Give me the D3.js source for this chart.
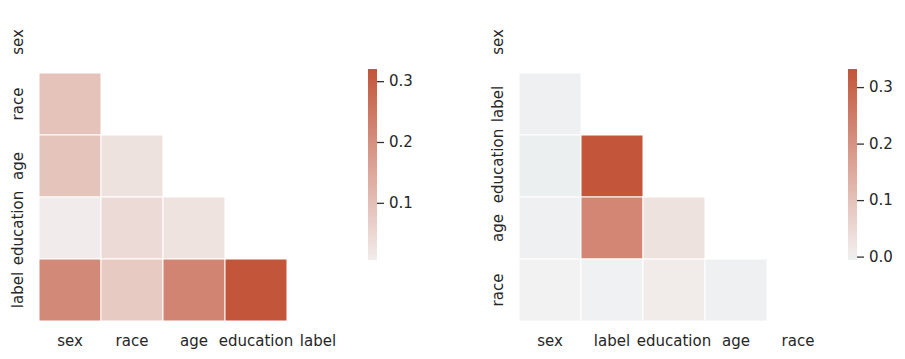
<!DOCTYPE html>
<html>
<head>
<meta charset="utf-8">
<script src="https://cdn.jsdelivr.net/npm/d3@7"></script>
<style>
  html, body { margin: 0; padding: 0; background: #fff; }
  text { font-family: "DejaVu Sans", sans-serif; fill: #262626; }
</style>
</head>
<body>
<svg id="chart" width="905" height="359"></svg>
<script>
// ---- Data ----
const leftVars = ["sex", "race", "age", "education", "label"];
// lower triangle: row i has values for columns 0..i-1
const leftValues = [
  [],
  [0.092],
  [0.089, 0.027],
  [0.006, 0.043, 0.025],
  [0.212, 0.078, 0.223, 0.320]
];
const leftTicks = [0.1, 0.2, 0.3];

const rightVars = ["sex", "label", "education", "age", "race"];
const rightValues = [
  [],
  [-0.002],
  [-0.006, 0.332],
  [-0.002, 0.227, 0.028],
  [0.000, -0.001, 0.009, -0.002]
];
const rightTicks = [0.0, 0.1, 0.2, 0.3];

// ---- Colormap (diverging 220 -> 20, light center) ----
const cmapStops = [0, 127/256, 0.5, 129/256, 1];
const cmapColors = ["rgb(63,127,145)", "rgb(237,240,241)", "rgb(242,242,242)", "rgb(242,238,237)", "rgb(195,85,58)"];
const cmap = d3.scaleLinear().domain(cmapStops).range(cmapColors).interpolate(d3.interpolateRgb).clamp(true);

const svg = d3.select("#chart");

function drawHeatmap(cfg) {
  const { vars, values, ticks, x0, y0, cbX } = cfg;
  const n = vars.length;
  const cell = 62;
  const flat = values.flat();
  const vmin = d3.min(flat), vmax = d3.max(flat);
  const vrange = Math.max(Math.abs(vmin), Math.abs(vmax));
  const color = v => cmap((v / vrange + 1) / 2);

  const x = d3.scaleBand().domain(vars).range([x0, x0 + n * cell]);
  const y = d3.scaleBand().domain(vars).range([y0, y0 + n * cell]);

  const g = svg.append("g");
  const cells = [];
  values.forEach((row, i) => row.forEach((v, j) => cells.push({ r: vars[i], c: vars[j], v })));
  g.selectAll("rect.cell").data(cells).join("rect")
    .attr("class", "cell")
    .attr("x", d => x(d.c)).attr("y", d => y(d.r))
    .attr("width", x.bandwidth()).attr("height", y.bandwidth())
    .attr("fill", d => color(d.v))
    .attr("stroke", "#fff").attr("stroke-width", 1);

  // x labels
  g.selectAll("text.xl").data(vars).join("text")
    .attr("class", "xl")
    .attr("x", d => x(d) + x.bandwidth() / 2)
    .attr("y", y0 + n * cell + 25)
    .attr("text-anchor", "middle")
    .style("font-size", "15px")
    .text(d => d);

  // y labels
  g.selectAll("text.yl").data(vars).join("text")
    .attr("class", "yl")
    .attr("transform", d => `translate(${x0 - 16},${y(d) + y.bandwidth() / 2}) rotate(-90)`)
    .attr("text-anchor", "middle")
    .style("font-size", "15px")
    .text(d => d);

  // colorbar
  const cbTop = 69, cbBot = 260, cbW = 9;
  const cy = d3.scaleLinear().domain([vmin, vmax]).range([cbBot, cbTop]);
  const gradId = "grad" + x0;
  const grad = svg.append("defs").append("linearGradient")
    .attr("id", gradId).attr("x1", 0).attr("y1", 1).attr("x2", 0).attr("y2", 0);
  d3.range(0, 1.0001, 0.05).forEach(f => {
    grad.append("stop").attr("offset", f).attr("stop-color", color(vmin + f * (vmax - vmin)));
  });
  g.append("rect").attr("x", cbX).attr("y", cbTop).attr("width", cbW).attr("height", cbBot - cbTop)
    .attr("fill", `url(#${gradId})`);
  const axis = d3.axisRight(cy).tickValues(ticks).tickFormat(d3.format(".1f")).tickSize(7).tickPadding(5).tickSizeOuter(0);
  const ag = g.append("g").attr("transform", `translate(${cbX + cbW},0)`).call(axis);
  ag.select(".domain").remove();
  ag.selectAll(".tick line").attr("stroke", "#333").attr("stroke-width", 1.3);
  ag.selectAll(".tick text").style("font-size", "15px").attr("fill", "#262626")
    .style("font-family", "DejaVu Sans, sans-serif");
}

drawHeatmap({ vars: leftVars, values: leftValues, ticks: leftTicks, x0: 39, y0: 11, cbX: 368 });
drawHeatmap({ vars: rightVars, values: rightValues, ticks: rightTicks, x0: 519, y0: 11, cbX: 848 });
</script>
</body>
</html>
